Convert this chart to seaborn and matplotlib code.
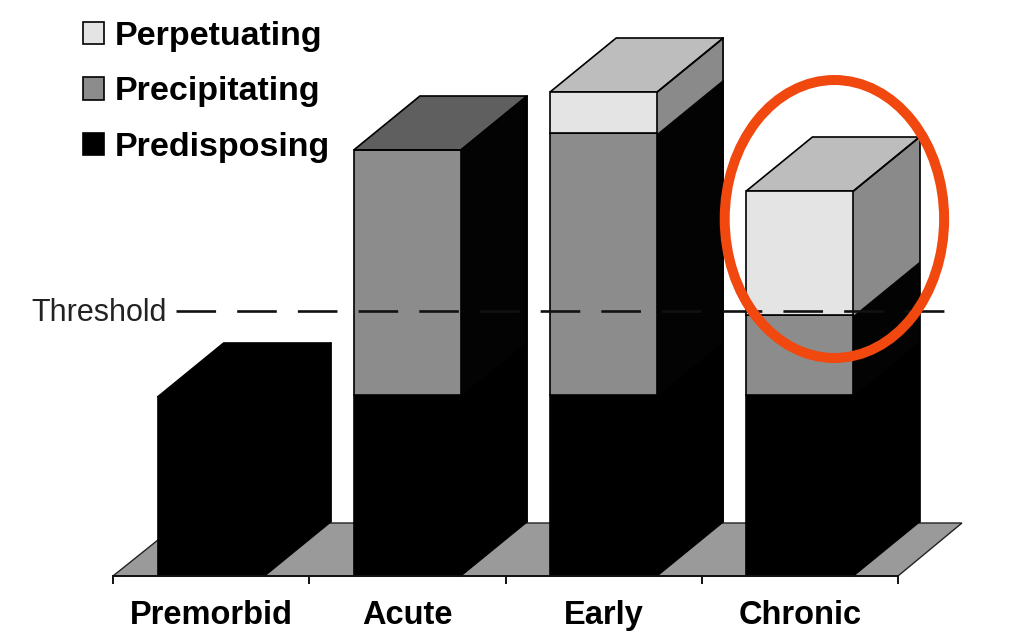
import matplotlib
matplotlib.use("Agg")
import matplotlib.pyplot as plt
from matplotlib.patches import Ellipse, Polygon
import numpy as np
import seaborn as sns

# values are read off the picture, scale is arbitrary (no y axis in the original)
stages = ["Premorbid", "Acute", "Early", "Chronic"]
predisposing = [179, 181, 181, 181]
precipitating = [0, 245, 262, 80]
perpetuating = [0, 0, 41, 124]
threshold = 265

sns.set_theme(style="white")
plt.rcParams["font.family"] = ["Liberation Sans", "DejaVu Sans"]

# face, side, top colours of each series
series = [
    ("Predisposing", predisposing, "#000000", "#000000", "#000000"),
    ("Precipitating", precipitating, "#8c8c8c", "#030303", "#5f5f5f"),
    ("Perpetuating", perpetuating, "#e4e4e4", "#8a8a8a", "#bdbdbd"),
]

bar_width = 0.546
depth_x = 0.337
depth_y = 54

fig = plt.figure(figsize=(10.24, 6.38), dpi=100)
ax = fig.add_axes([113 / 1024, 1 - 576 / 638, 785 / 1024, 576 / 638])

# stacked front faces
bottom = np.zeros(len(stages))
segments = []
for name, values, face, side, top in series:
    sns.barplot(x=stages, y=values, bottom=bottom, color=face, saturation=1, width=bar_width,
                edgecolor="#000000", linewidth=1.2, label=name, ax=ax, zorder=2)
    segments.append((np.array(values), bottom.copy(), side, top))
    bottom = bottom + np.array(values)

ax.set_xlim(-0.5, 3.5)
ax.set_ylim(0, 576)

# floor of the 3d box
floor = Polygon([(-0.5, 0), (-0.5 + depth_x, depth_y - 1), (3.5 + 0.326, depth_y - 1), (3.5, 0)],
                closed=True, facecolor="#9a9a9a", edgecolor="#222222", linewidth=1, zorder=0, clip_on=False)
ax.add_patch(floor)

# side and top faces
for i in range(len(stages)):
    right = i + bar_width / 2
    left = i - bar_width / 2
    for values, base, side, top in segments:
        if values[i] == 0:
            continue
        b = base[i]
        t = b + values[i]
        ax.add_patch(Polygon([(right, b), (right + depth_x, b + depth_y), (right + depth_x, t + depth_y), (right, t)],
                             closed=True, facecolor=side, edgecolor=side, linewidth=0.8, zorder=1.5, clip_on=False))
        top_color = top
        top_edge = t
    ax.add_patch(Polygon([(left, top_edge), (left + depth_x, top_edge + depth_y),
                          (right + depth_x, top_edge + depth_y), (right, top_edge)],
                         closed=True, facecolor=top_color, edgecolor="#000000", linewidth=1.2,
                         zorder=1.6, clip_on=False))
    ax.plot([right + depth_x] * 2, [depth_y, top_edge + depth_y], color="#000000", lw=1.2, zorder=1.7, clip_on=False)
    ax.plot([right, right + depth_x], [top_edge, top_edge + depth_y], color="#000000", lw=1.2, zorder=1.7, clip_on=False)

# threshold
ax.plot([-0.18, 3.77], [threshold, threshold], color="#111111", lw=1.9, dashes=(15, 8), zorder=3, clip_on=False)
ax.text(-0.225, threshold - 2, "Threshold", ha="right", va="center", fontsize=22, color="#222222", clip_on=False)

# red circle round the chronic bar
ax.add_patch(Ellipse((3.176, 357), 1.118, 278, fill=False, edgecolor="#f0480f", linewidth=7.2, zorder=4, clip_on=False))

# axis
sns.despine(ax=ax, left=True)
ax.spines["bottom"].set_color("#111111")
ax.spines["bottom"].set_linewidth(1.4)
ax.set_yticks([])
ax.set_xticks(np.arange(-0.5, 4, 1))
ax.set_xticklabels([])
ax.set_xticks(range(len(stages)), labels=stages, minor=True)
ax.tick_params(axis="x", which="major", length=6, width=1.4, color="#111111", bottom=True)
ax.tick_params(axis="x", which="minor", length=0, pad=17, labelsize=23.5)
for label in ax.get_xticklabels(minor=True):
    label.set_fontweight("bold")
    label.set_color("#000000")

# legend, last series first
handles, labels = ax.get_legend_handles_labels()
leg = ax.legend(handles[::-1], labels[::-1], loc="upper left", bbox_to_anchor=(65.6 / 1024, 1 - 3.6 / 638),
                bbox_transform=fig.transFigure, frameon=False, prop={"weight": "bold", "size": 24.5},
                handlelength=0.62, handleheight=0.62, handletextpad=0.32, labelspacing=0.73, borderpad=0)
for text in leg.get_texts():
    text.set_color("#000000")

fig.savefig("out.png", dpi=100)
